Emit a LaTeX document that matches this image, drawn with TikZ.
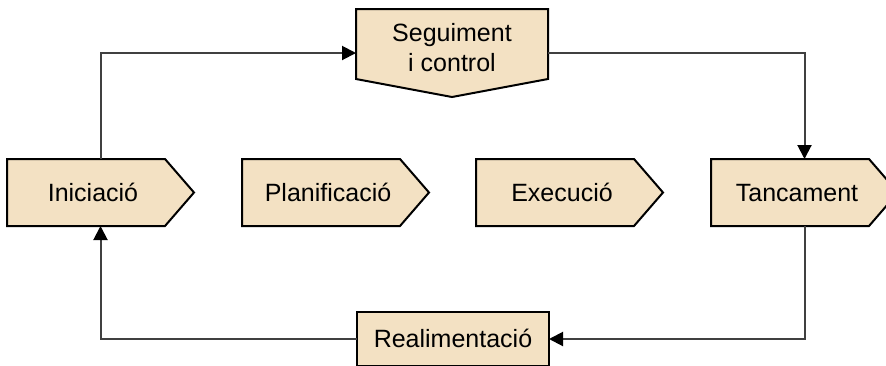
\documentclass[tikz,border=0pt]{standalone}
\usepackage{fontspec}
\setmainfont{Liberation Sans}
\usepackage{tikz}
\usetikzlibrary{positioning, arrows.meta}

\definecolor{beix}{HTML}{F3E1C3}
\definecolor{linia}{HTML}{404040}

\tikzset{
  fase/.style={minimum width=187pt, minimum height=67pt, inner sep=0pt, outer sep=0pt},
  caixa/.style={draw=black, line width=2pt, fill=beix},
  rotul/.style={font=\fontsize{25}{30}\selectfont, inner sep=0pt},
  fletxa/.style={draw=linia, line width=2pt, -{Triangle[length=14pt, width=14pt, color=black]}}
}

\begin{document}
\begin{tikzpicture}[x=1pt, y=1pt]
    \useasboundingbox (0,0) rectangle (886,-365);
    % fases
    \foreach \nom/\x/\etiq in {ini/100.5/Iniciació, pla/335.5/Planificació, exe/569.5/Execució, tan/804.5/Tancament}{
      \node[fase] (\nom) at (\x,-192.5) {};
      \draw[caixa] (\nom.north west) -- ([xshift=-29pt]\nom.north east) -- (\nom.east)
        -- ([xshift=-29pt]\nom.south east) -- (\nom.south west) -- cycle;
      \node[rotul, text height=20pt, text depth=3pt] (\nom-t) at ([xshift=-7.5pt]\nom.center) {\etiq};
    }
    % seguiment
    \node[fase, minimum width=192pt, minimum height=88pt] (seg) at (452,-53) {};
    \draw[caixa] (seg.north west) -- (seg.north east) -- ([yshift=18pt]seg.south east)
      -- (seg.south) -- ([yshift=18pt]seg.south west) -- cycle;
    \node[rotul, align=center] (seg-t) at (452,-47.5) {Seguiment\\i control};
    % realimentacio
    \node[caixa, rotul, minimum width=192pt, minimum height=54pt, outer sep=0pt,
      text height=19pt, text depth=3pt] (rea) at (453,-339) {Realimentació};
    % cicle
    \draw[fletxa] (ini.north) |- (seg.west);
    \draw[fletxa] (seg.east) -| (tan.north);
    \draw[fletxa] (tan.south) |- (rea.east);
    \draw[fletxa] (rea.west) -| (ini.south);
\end{tikzpicture}
\end{document}
